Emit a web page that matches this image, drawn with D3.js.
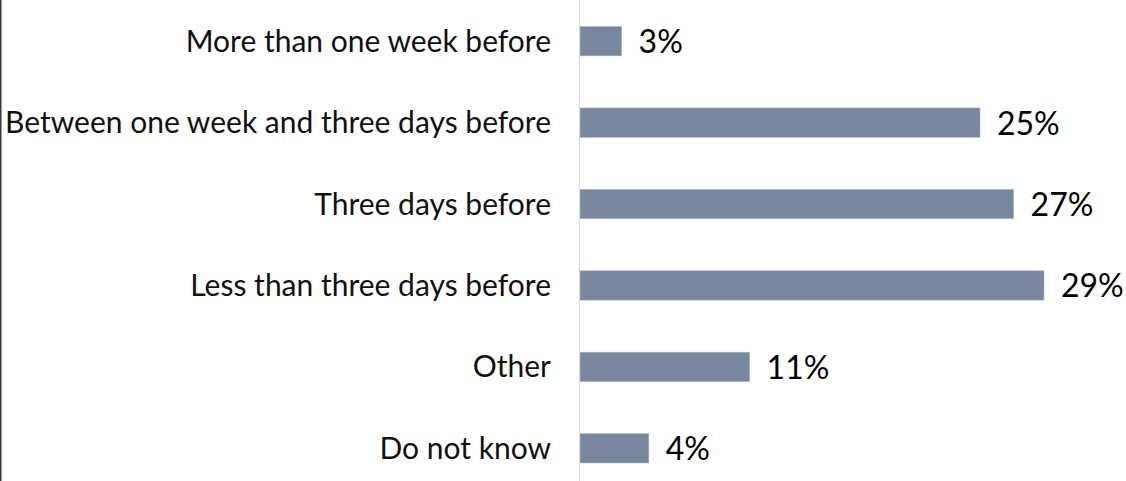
<!DOCTYPE html>
<html>
<head>
<meta charset="utf-8">
<script src="https://cdn.jsdelivr.net/npm/d3@7/dist/d3.min.js"></script>
<style>
  html, body { margin: 0; padding: 0; background: #ffffff; }
  svg { display: block; }
</style>
</head>
<body>
<svg id="chart" width="1126" height="481"></svg>
<script>
const categories = [
  "More than one week before",
  "Between one week and three days before",
  "Three days before",
  "Less than three days before",
  "Other",
  "Do not know"
];
const values = [2.6, 25.0, 27.1, 29.0, 10.6, 4.3];

const W = 1126, H = 481;
const axisX = 580;
const svg = d3.select("#chart");

const x = d3.scaleLinear().domain([0, 25]).range([axisX, axisX + 400]);
const y = d3.scaleBand().domain(categories).range([0.5, 489]).paddingInner(0.64).paddingOuter(0.32);

// left border
svg.append("rect").attr("x", 0).attr("y", 0).attr("width", 1.5).attr("height", H).attr("fill", "#3f3733");

// bars
svg.selectAll("rect.bar").data(categories).enter().append("rect")
  .attr("class", "bar")
  .attr("x", x(0))
  .attr("y", d => y(d))
  .attr("width", (d, i) => x(values[i]) - x(0))
  .attr("height", y.bandwidth())
  .attr("fill", "#78869e")
  .attr("stroke", "#a7b1c1")
  .attr("stroke-width", 0.6);

// axis line
svg.append("line").attr("x1", axisX - 0.5).attr("x2", axisX - 0.5).attr("y1", 0).attr("y2", H)
  .attr("stroke", "#d9d9d9").attr("stroke-width", 1.2);

// category labels
svg.selectAll("text.cat").data(categories).enter().append("text")
  .attr("class", "cat")
  .attr("x", 551)
  .attr("y", d => y(d) + y.bandwidth() / 2 + 10.5)
  .attr("text-anchor", "end")
  .attr("font-family", "Lato, 'Open Sans', sans-serif")
  .attr("font-size", 30)
  .attr("fill", "#111111")
  .text(d => d);

// value labels
const fmt = v => d3.format(".0f")(v) + "%";
svg.selectAll("text.val").data(categories).enter().append("text")
  .attr("class", "val")
  .attr("x", (d, i) => x(values[i]) + 17)
  .attr("y", d => y(d) + y.bandwidth() / 2 + 12)
  .attr("font-family", "Lato, 'Open Sans', sans-serif")
  .attr("font-size", 32)
  .attr("fill", "#000000")
  .text((d, i) => fmt(values[i]));
</script>
</body>
</html>
